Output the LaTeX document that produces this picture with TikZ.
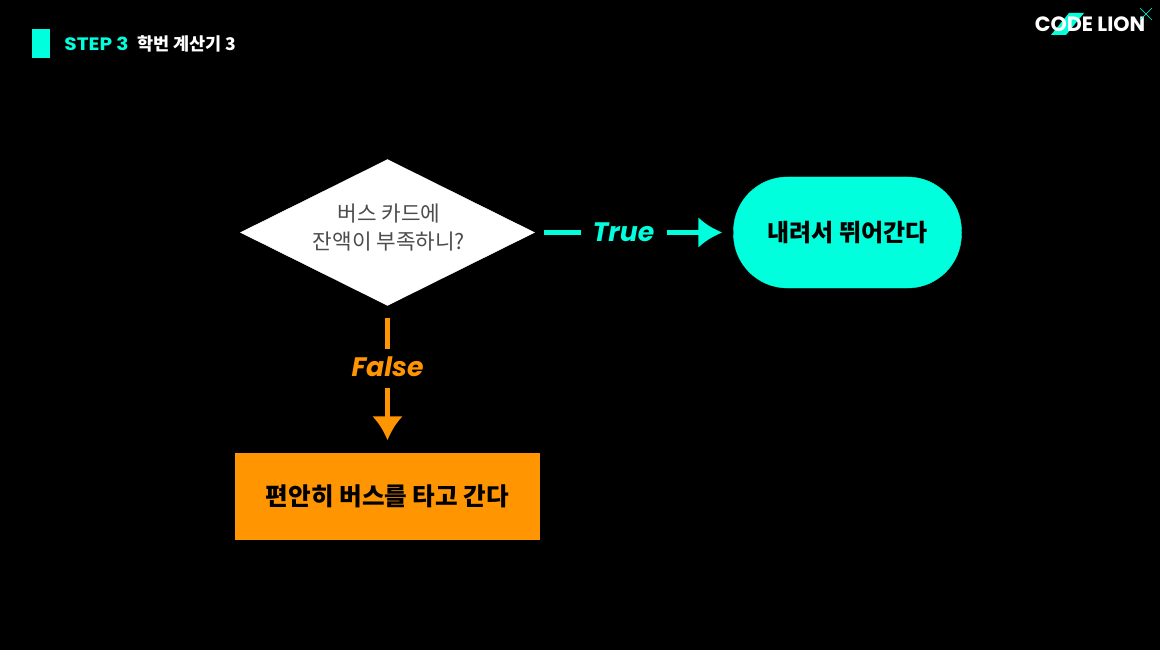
\documentclass[tikz,border=0pt]{standalone}
\usepackage{fontspec}
\setmainfont{Poppins}
\newfontfamily\widefont[FakeStretch=1.12]{Poppins}
\newfontfamily\krfont{Noto Sans CJK KR}
\usetikzlibrary{shapes.geometric,arrows.meta,positioning}

\definecolor{liontext}{HTML}{00FFDD}
\definecolor{lionorange}{HTML}{FF9500}

\tikzstyle{question} = [draw=white, fill=white, diamond, aspect=2.01, inner sep=0pt,
  minimum width=294pt, minimum height=146pt]
\tikzstyle{questiontext} = [text=black!70, inner sep=0pt, align=center,
  font=\krfont\fontsize{21.3}{28}\selectfont]
\tikzstyle{yesbox} = [draw=liontext, fill=liontext, rectangle, rounded corners=54pt,
  minimum width=228pt, minimum height=111pt, text=black,
  font=\krfont\bfseries\fontsize{24}{28}\selectfont]
\tikzstyle{nobox} = [draw=lionorange, fill=lionorange, rectangle,
  minimum width=304pt, minimum height=86pt, text=black,
  font=\krfont\bfseries\fontsize{24.6}{28}\selectfont]
\tikzstyle{branch} = [font=\bfseries\itshape\fontsize{26.7}{28}\selectfont, inner sep=0pt]
\tikzstyle{flowline} = [line width=4.5pt]
\tikzstyle{flowarrow} = [line width=4.5pt, -{Latex[length=24pt,width=31pt]}]

\begin{document}
\begin{tikzpicture}[x=1pt,y=-1pt]
        \fill[black] (0,0) rectangle (1160,650);
        \useasboundingbox (0,0) rectangle (1160,650);

        % header
        \node [fill=liontext, minimum width=18pt, minimum height=29pt, inner sep=0pt] (stepmark) at (41,43.5) {};
        \node [right=14pt of stepmark, inner sep=0pt, text=liontext, font=\widefont\bfseries\fontsize{18}{20}\selectfont] (steplabel) {STEP 3};
        \node [right=8pt of steplabel, inner sep=0pt, text=white, font=\krfont\bfseries\fontsize{17.5}{20}\selectfont] (steptitle) {학번 계산기 3};

        % logo
        \fill[liontext] (1069,13) -- (1084,13) -- (1066,35) -- (1051,35) -- cycle;
        \node [text=white, inner sep=0pt, font=\bfseries\fontsize{20.7}{20}\selectfont] (logo) at (1090,24) {CODE LION};
        \draw[liontext] (1140,8) -- (1152,20) (1152,8) -- (1140,20);

        % flowchart
        \node [question]     (question)     at (387.5,232.5) {};
        \node [questiontext] (questiontext) at (389,228) {버스 카드에\\잔액이 부족하니?};
        \node [yesbox]   (yesbox)   at (847.5,232.5) {내려서 뛰어간다};
        \node [nobox]    (nobox)    at (387.5,496.5) {편안히 버스를 타고 간다};
        \node [branch, text=liontext]   (truelabel)  at (623.5,232.5) {True};
        \node [branch, text=lionorange] (falselabel) at (387.5,367) {False};

        \draw[flowline, liontext, shorten <=9pt, shorten >=11pt] (question.east) -- (truelabel.west);
        \draw[flowarrow, liontext, shorten <=12pt, shorten >=11pt] (truelabel.east) -- (yesbox.west);
        \draw[flowline, lionorange, shorten <=12pt, shorten >=8pt] (question.south) -- (falselabel.north);
        \draw[flowarrow, lionorange, shorten <=11pt, shorten >=13pt] (falselabel.south) -- (nobox.north);
      \end{tikzpicture}
\end{document}
